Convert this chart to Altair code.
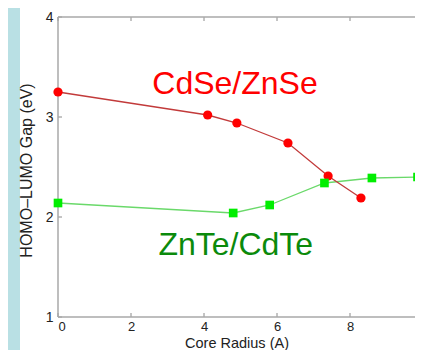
import altair as alt
import pandas as pd

# ---- data ----
cdse_radius = [0.0, 4.1, 4.9, 6.3, 7.4, 8.3]
cdse_gap = [3.25, 3.02, 2.94, 2.74, 2.41, 2.19]
znte_radius = [0.0, 4.8, 5.8, 7.3, 8.6, 9.85]
znte_gap = [2.14, 2.04, 2.12, 2.34, 2.39, 2.40]
x_ticks = [0, 2, 4, 6, 8]
y_ticks = [1, 2, 3, 4]
label_names = ["CdSe/ZnSe", "ZnTe/CdTe"]
label_x = [4.85, 4.87]
label_y = [3.33, 1.72]
label_colors = ["#ff0000", "#0b8a0b"]

PX_PER_UNIT = 36.5
W, H = 357, 300
X_MAX = W / PX_PER_UNIT   # the axis runs on past the window's right edge
FONT = "Liberation Sans"
AXIS_GRAY = "#a9a9a9"
TICK_GRAY = "#8a8a8a"

cdse = pd.DataFrame({"r": cdse_radius, "gap": cdse_gap})
znte = pd.DataFrame({"r": znte_radius, "gap": znte_gap})
xt = pd.DataFrame({"r": x_ticks})
yt = pd.DataFrame({"gap": y_ticks})
lab = pd.DataFrame({"name": label_names, "r": label_x, "gap": label_y})
one = pd.DataFrame({"k": [0]})

xscale = alt.Scale(domain=[0, X_MAX], nice=False, zero=False)
yscale = alt.Scale(domain=[1, 4], nice=False, zero=False)

x_axis = alt.Axis(values=x_ticks, format="d", title="Core Radius (A)",
                  domain=False, ticks=False, grid=False, labelPadding=3,
                  labelFontSize=13, titleFontSize=14.5,
                  titleBaseline="alphabetic", titleY=30, zindex=1)
y_axis = alt.Axis(values=y_ticks, format="d", title="HOMO\u2013LUMO Gap (eV)",
                  domain=False, ticks=False, grid=False, labelPadding=5,
                  labelFontSize=14, titleFontSize=16,
                  titleBaseline="alphabetic", titleX=-27, titleY=H / 2 + 3,
                  zindex=1)

X = alt.X("r:Q", scale=xscale, axis=x_axis)
Y = alt.Y("gap:Q", scale=yscale, axis=y_axis)

# white panel behind the axes
panel = alt.Chart(one).mark_rect(color="white").encode(
    x=alt.value(-38), x2=alt.value(420), y=alt.value(-12), y2=alt.value(360)
)

def rule(**enc):
    return alt.Chart(one).mark_rule(color=AXIS_GRAY, strokeWidth=1.5).encode(**enc)

box_bottom = rule(x=alt.value(0), x2=alt.value(W + 5), y=alt.value(H))
box_top = rule(x=alt.value(0), x2=alt.value(W + 5), y=alt.value(0))
box_left = rule(x=alt.value(0), y=alt.value(0), y2=alt.value(H))

# inward ticks
tick_b = alt.Chart(xt).mark_rule(color=TICK_GRAY).encode(
    x=X, y=alt.value(H), y2=alt.value(H - 4))
tick_t = alt.Chart(xt).mark_rule(color=TICK_GRAY).encode(
    x=X, y=alt.value(0), y2=alt.value(4))
tick_l = alt.Chart(yt).mark_rule(color=TICK_GRAY).encode(
    y=Y, x=alt.value(0), x2=alt.value(4))

green_line = alt.Chart(znte).mark_line(color="#6ad96a", strokeWidth=1.3).encode(x=X, y=Y)
red_line = alt.Chart(cdse).mark_line(color="#c23a3a", strokeWidth=1.3).encode(x=X, y=Y)
red_pts = alt.Chart(cdse).mark_point(shape="circle", filled=True, size=85,
                                     color="#ff0000", opacity=1).encode(x=X, y=Y)
green_pts = alt.Chart(znte).mark_point(shape="square", filled=True, size=75,
                                       color="#00ee00", opacity=1).encode(x=X, y=Y)
labels = alt.Chart(lab).mark_text(fontSize=32, font=FONT, baseline="middle",
                                  align="center").encode(
    x=X, y=Y,
    text="name:N",
    color=alt.Color("name:N", scale=alt.Scale(domain=label_names, range=label_colors),
                    legend=None),
)

chart = alt.layer(
    panel, tick_b, tick_t, tick_l,
    box_bottom, box_top, box_left,
    green_line, red_line, red_pts, green_pts, labels,
).properties(
    width=W, height=H,
    autosize=alt.AutoSizeParams(type="none"),
    padding={"left": 50, "top": 9, "right": 0, "bottom": 33},
).configure(
    background="#b9e0e4",
    font=FONT,
).configure_view(
    stroke="transparent",
).configure_axis(
    labelFont=FONT, titleFont=FONT,
    titleFontWeight="normal", labelColor="#222222", titleColor="#222222",
)

chart.save("out.html", embed_options={"renderer": "svg", "actions": False})
